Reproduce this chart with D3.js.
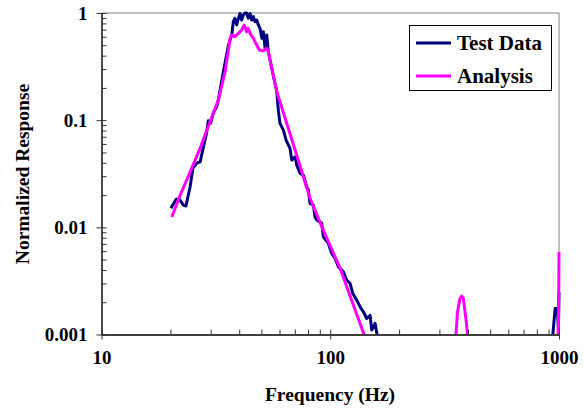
<!DOCTYPE html>
<html>
<head>
<meta charset="utf-8">
<script src="https://cdn.jsdelivr.net/npm/d3@7"></script>
<style>
  html, body { margin: 0; padding: 0; background: #fff; }
  svg { display: block; }
  text { font-family: "Liberation Serif", "Times New Roman", serif; font-weight: bold; fill: #000; }
</style>
</head>
<body>
<svg id="chart" width="584" height="408"></svg>
<script>
// ---- data ----
const testFreq = [20.1, 21.2, 21.9, 22.8, 23.4, 24.4, 25.1, 26.1, 27.0, 27.7, 28.8, 29.3, 30.0, 30.8, 31.9, 32.4,
  34.1, 35.9, 37.1, 37.7, 38.3, 39.0, 39.7, 40.3, 41.0, 41.7, 42.4, 43.1, 43.8, 44.6, 45.4, 46.1, 46.9, 47.7, 48.5, 49.3, 50.2, 51.0, 51.9, 52.8, 53.6, 55.5, 58.4,
  59.3, 60.3, 62.4, 64.1, 66.7, 67.9, 70.2, 71.4, 73.8, 76.3, 78.9, 80.2, 81.6, 84.4, 85.8,
  87.3, 91.8, 93.3, 98.1, 101.5, 105.0, 108.5, 114.1, 118.1, 122.1, 125.5, 130.6, 135.0, 139.5, 144.4, 149.3, 151.9, 157.0, 160.2,
  165, 930, 940, 962, 984, 994, 1000];
const testVal = [0.0151, 0.0183, 0.0183, 0.0161, 0.0158, 0.0239, 0.0357, 0.0398, 0.0409, 0.0526, 0.0758, 0.0987, 0.0939, 0.1165, 0.1334, 0.154,
  0.283, 0.503, 0.623, 0.829, 0.892, 0.773, 0.892, 0.99, 0.86, 0.958, 1.0, 1.0, 0.892, 0.99, 0.86, 0.924, 0.829, 0.86, 0.773, 0.72, 0.58, 0.669, 0.468, 0.623, 0.435, 0.305, 0.184,
  0.124, 0.0934, 0.0808, 0.0652, 0.0545, 0.0424, 0.0455, 0.0381, 0.0319, 0.0307, 0.0239, 0.0223, 0.0167, 0.0161, 0.0125,
  0.0117, 0.0109, 0.00815, 0.00707, 0.0057, 0.00513, 0.00428, 0.00384, 0.00321, 0.003, 0.00241, 0.00209, 0.00181, 0.00163, 0.00141, 0.00151, 0.0011, 0.00127, 0.001,
  0.0007, 0.0007, 0.001, 0.00175, 0.00175, 0.0011, 0.0025];

const anaFreq = [20.3, 22.0, 24.4, 27.0, 29.8, 32.4,
  34.7, 36.5, 37.1, 38.3, 39.7, 41.0, 42.1, 43.1, 43.8, 44.6, 46.1, 47.7, 49.0, 51.0, 52.8, 53.6, 55.5, 58.4,
  70.2, 81.6, 92.1, 110.4, 140.5, 146,
  350, 354.8, 359.5, 363.2, 369.4, 375.8, 381.9, 385.8, 392.5, 397.7, 403,
  980, 995, 1000];
const anaVal = [0.0125, 0.0196, 0.0328, 0.0549, 0.096, 0.154,
  0.283, 0.58, 0.623, 0.601, 0.646, 0.694, 0.773, 0.669, 0.72, 0.646, 0.58, 0.503, 0.451, 0.445, 0.468, 0.435, 0.305, 0.184,
  0.0526, 0.0187, 0.01, 0.00416, 0.001, 0.0007,
  0.0007, 0.00102, 0.00157, 0.00181, 0.00217, 0.00228, 0.00217, 0.00181, 0.00136, 0.00102, 0.0007,
  0.0007, 0.0012, 0.0059];

const xMajor = [10, 100, 1000];
const xMajorLabels = ["10", "100", "1000"];
const yMajor = [0.001, 0.01, 0.1, 1];
const yMajorLabels = ["0.001", "0.01", "0.1", "1"];
const seriesNames = ["Test Data", "Analysis"];
const seriesColors = ["#000080", "#FF00FF"];

// ---- layout ----
const L = 101.5, R = 559, T = 13, B = 334.5;
const svg = d3.select("#chart");

const x = d3.scaleLog().domain([10, 1000]).range([L, R]);
const y = d3.scaleLog().domain([0.001, 1]).range([B, T]);

const minorX = [];
[10, 100].forEach(d => { for (let k = 2; k <= 9; k++) minorX.push(d * k); });
const minorY = [];
[0.001, 0.01, 0.1].forEach(d => { for (let k = 2; k <= 9; k++) minorY.push(+(d * k).toPrecision(3)); });

// plot frame (top/right gray)
svg.append("line").attr("x1", L).attr("x2", R).attr("y1", T).attr("y2", T)
  .attr("stroke", "#808080").attr("stroke-width", 1);
svg.append("line").attr("x1", R).attr("x2", R).attr("y1", T).attr("y2", B)
  .attr("stroke", "#808080").attr("stroke-width", 1);

// clip
svg.append("defs").append("clipPath").attr("id", "clip")
  .append("rect").attr("x", L).attr("y", T - 3).attr("width", R - L + 3).attr("height", B - T + 3);

// series
const lineGen = (fs, vs) => d3.line()
  .x(i => x(fs[i])).y(i => y(vs[i]))(d3.range(fs.length));

const g = svg.append("g").attr("clip-path", "url(#clip)");
g.append("path").attr("d", lineGen(testFreq, testVal))
  .attr("fill", "none").attr("stroke", seriesColors[0]).attr("stroke-width", 3)
  .attr("stroke-linejoin", "round");
g.append("path").attr("d", lineGen(anaFreq, anaVal))
  .attr("fill", "none").attr("stroke", seriesColors[1]).attr("stroke-width", 3)
  .attr("stroke-linejoin", "round");

// x axis
const axisColor = "#333";
const gx = svg.append("g").attr("transform", `translate(0,${B})`);
gx.call(d3.axisBottom(x).tickValues(minorX).tickSize(-5).tickSizeOuter(0).tickFormat(""));
const gx2 = svg.append("g").attr("transform", `translate(0,${B})`);
gx2.call(d3.axisBottom(x).tickValues(xMajor).tickSize(5).tickSizeOuter(0).tickPadding(20)
  .tickFormat((d, i) => xMajorLabels[i]));
gx2.selectAll(".tick line").attr("y1", -5).attr("y2", 5);
gx2.selectAll(".tick text").attr("font-size", 19).attr("font-family", null).attr("dy", "0.25em");
[gx, gx2].forEach(a => {
  a.select(".domain").attr("stroke", axisColor).attr("stroke-width", 1.3);
  a.selectAll(".tick line").attr("stroke", axisColor);
});

// y axis
const gy = svg.append("g").attr("transform", `translate(${L},0)`);
gy.call(d3.axisLeft(y).tickValues(minorY).tickSize(-5).tickSizeOuter(0).tickFormat(""));
const gy2 = svg.append("g").attr("transform", `translate(${L},0)`);
gy2.call(d3.axisLeft(y).tickValues(yMajor).tickSize(5).tickSizeOuter(0).tickPadding(9)
  .tickFormat((d, i) => yMajorLabels[i]));
gy2.selectAll(".tick line").attr("x1", -5).attr("x2", 5);
gy2.selectAll(".tick text").attr("font-size", 19).attr("font-family", null).attr("dy", "0.32em");
[gy, gy2].forEach(a => {
  a.select(".domain").attr("stroke", axisColor).attr("stroke-width", 1.3);
  a.selectAll(".tick line").attr("stroke", axisColor);
});

// axis titles
svg.append("text").attr("x", 330).attr("y", 401).attr("text-anchor", "middle")
  .attr("font-size", 19.5).text("Frequency (Hz)");
svg.append("text").attr("transform", "translate(29,174) rotate(-90)").attr("text-anchor", "middle")
  .attr("font-size", 19.5).text("Normalized Response");

// legend
const lg = svg.append("g");
lg.append("rect").attr("x", 409.5).attr("y", 25.5).attr("width", 142).attr("height", 65)
  .attr("fill", "#fff").attr("stroke", "#000").attr("stroke-width", 1);
const legY = [43, 76], legBase = [50, 82.5];
seriesNames.forEach((name, i) => {
  lg.append("line").attr("x1", 416).attr("x2", 451).attr("y1", legY[i]).attr("y2", legY[i])
    .attr("stroke", seriesColors[i]).attr("stroke-width", 3);
  lg.append("text").attr("x", 457).attr("y", legBase[i]).attr("font-size", 21).text(name);
});
</script>
</body>
</html>
